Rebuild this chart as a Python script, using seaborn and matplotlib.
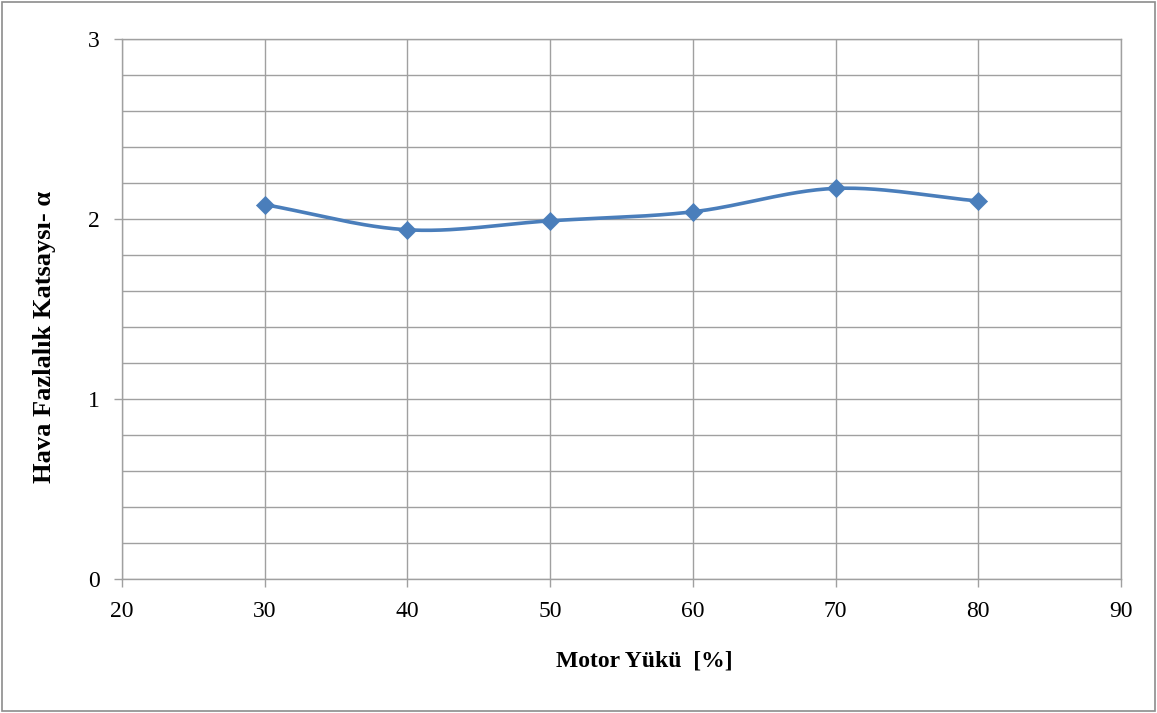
import numpy as np
import pandas as pd
import matplotlib
matplotlib.use("Agg")
import matplotlib.pyplot as plt
import seaborn as sns
from matplotlib.ticker import MultipleLocator
from matplotlib.patches import Rectangle

# Data
motor_load = [30, 40, 50, 60, 70, 80]
alpha = [2.08, 1.94, 1.99, 2.04, 2.17, 2.10]
x_label = "Motor Yükü  [%]"
y_label = "Hava Fazlalık Katsaysı- α"

sns.set_theme(style="white")
plt.rcParams['font.family'] = ['Liberation Serif', 'DejaVu Serif']

fig = plt.figure(figsize=(11.57, 7.13), dpi=100)
ax = fig.add_axes([122/1157, 1 - 579/713, (1121 - 122)/1157, (579 - 39)/713])

# Smooth curve (Catmull-Rom style, like Excel smoothed line)
def catmull_rom(xs, ys, n=30):
    xs = np.asarray(xs, float); ys = np.asarray(ys, float)
    px = np.concatenate([[2*xs[0]-xs[1]], xs, [2*xs[-1]-xs[-2]]])
    py = np.concatenate([[2*ys[0]-ys[1]], ys, [2*ys[-1]-ys[-2]]])
    out_x, out_y = [], []
    for i in range(1, len(px) - 2):
        t = np.linspace(0, 1, n, endpoint=(i == len(px) - 3))
        for arr, out in ((px, out_x), (py, out_y)):
            p0, p1, p2, p3 = arr[i-1], arr[i], arr[i+1], arr[i+2]
            out.extend(0.5*((2*p1) + (-p0+p2)*t + (2*p0-5*p1+4*p2-p3)*t**2 + (-p0+3*p1-3*p2+p3)*t**3))
    return np.array(out_x), np.array(out_y)

sx, sy = catmull_rom(motor_load, alpha)
color = "#4A7EBB"
sns.lineplot(x=sx, y=sy, ax=ax, color=color, linewidth=2.6, sort=False, estimator=None)
df = pd.DataFrame({"load": motor_load, "alpha": alpha})
sns.scatterplot(data=df, x="load", y="alpha", ax=ax, marker="D", s=85, color=color,
                edgecolor=color, linewidth=0.5, zorder=5)

ax.set_xlim(20, 90)
ax.set_ylim(0, 3)
ax.xaxis.set_major_locator(MultipleLocator(10))
ax.yaxis.set_major_locator(MultipleLocator(1))
ax.yaxis.set_minor_locator(MultipleLocator(0.2))
ax.grid(True, which="major", color="#A0A0A0", linewidth=1.0)
ax.grid(True, which="minor", axis="y", color="#A0A0A0", linewidth=1.0)
ax.set_axisbelow(True)
for sp in ax.spines.values():
    sp.set_color("#A0A0A0")
    sp.set_linewidth(1.0)
ax.tick_params(axis="both", which="major", direction="out", length=6, width=1.0,
               color="#A0A0A0", labelsize=17, labelcolor="black", pad=10)
ax.tick_params(axis="both", which="minor", length=0)
ax.tick_params(axis="x", bottom=True)
ax.tick_params(axis="y", left=True)

ax.set_xlabel(x_label, fontsize=17, fontweight="bold", labelpad=20, color="black", x=0.5225)
ax.set_ylabel(y_label, fontsize=19, fontweight="bold", labelpad=23, color="black", y=0.448)

fig.patches.append(Rectangle((2/1157, 2/713), 1 - 4/1157, 1 - 4/713, transform=fig.transFigure,
                             fill=False, edgecolor="#8C8C8C", linewidth=1.2))

fig.savefig("out.png", dpi=100)
